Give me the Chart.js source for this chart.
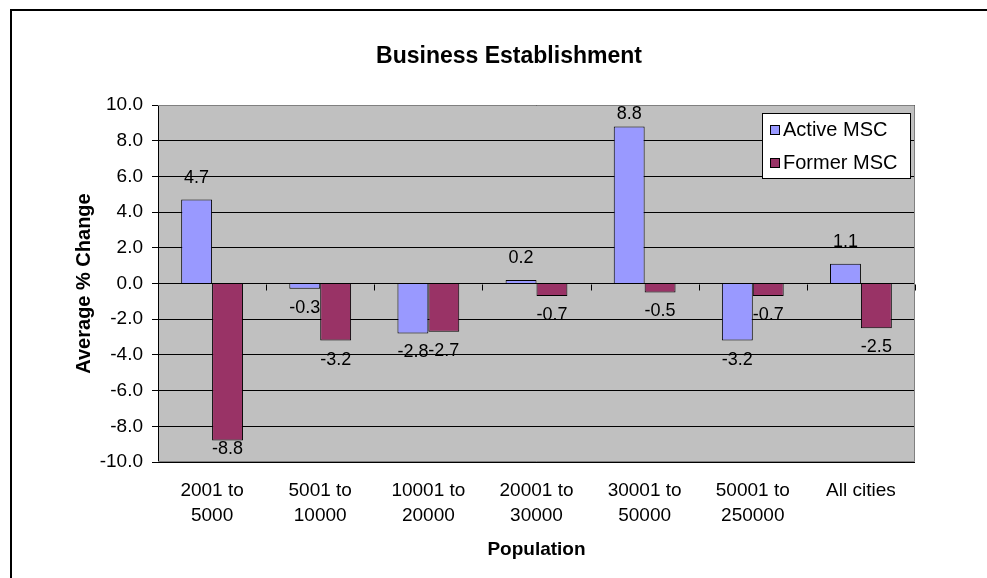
<!DOCTYPE html>
<html lang="en">
  <head>
    <meta charset="UTF-8" />
    <script src="https://cdn.jsdelivr.net/npm/chart.js@4.4.1/dist/chart.umd.min.js"></script>
    <title>Business Establishment</title>
    <style>
      body { margin: 0; background: #fff; }
      canvas { display: block; }
    </style>
  </head>
  <body>
    <canvas id="myChart" width="987" height="578"></canvas>

    <script>
      const title = "Business Establishment";
      const categories = [
        ["2001 to", "5000"],
        ["5001 to", "10000"],
        ["10001 to", "20000"],
        ["20001 to", "30000"],
        ["30001 to", "50000"],
        ["50001 to", "250000"],
        "All cities",
      ];
      const activeMSC = [4.7, -0.3, -2.8, 0.2, 8.8, -3.2, 1.1];
      const formerMSC = [-8.8, -3.2, -2.7, -0.7, -0.5, -0.7, -2.5];
      const yTicks = [-10, -8, -6, -4, -2, 0, 2, 4, 6, 8, 10];

      const FONT = "'Liberation Sans', Arial, sans-serif";

      // background, frame, title, value labels and legend
      const excelLook = {
        id: "excelLook",
        beforeDraw(chart) {
          const { ctx, chartArea: a } = chart;
          ctx.save();
          ctx.fillStyle = "#fff";
          ctx.fillRect(0, 0, chart.width, chart.height);
          ctx.fillStyle = "#c0c0c0";
          ctx.fillRect(a.left, a.top, a.right - a.left, a.bottom - a.top);
          // outer chart border (cut off on right and bottom)
          ctx.strokeStyle = "#000";
          ctx.lineWidth = 2;
          ctx.beginPath();
          ctx.moveTo(11, chart.height + 2);
          ctx.lineTo(11, 10);
          ctx.lineTo(chart.width + 2, 10);
          ctx.stroke();
          // chart title
          ctx.fillStyle = "#000";
          ctx.font = "bold 23px " + FONT;
          ctx.textAlign = "center";
          ctx.textBaseline = "middle";
          ctx.fillText(title, 509, 57);
          ctx.restore();
        },
        beforeDatasetsDraw(chart) {
          const { ctx, chartArea: a } = chart;
          ctx.save();
          ctx.strokeStyle = "#808080";
          ctx.lineWidth = 1;
          ctx.beginPath();
          ctx.moveTo(a.left, a.top + 0.5);
          ctx.lineTo(a.right - 0.5, a.top + 0.5);
          ctx.lineTo(a.right - 0.5, a.bottom - 0.5);
          ctx.lineTo(a.left, a.bottom - 0.5);
          ctx.stroke();
          ctx.restore();
        },
        afterDatasetsDraw(chart) {
          // tick marks between categories on the zero line
          const { ctx } = chart;
          const x = chart.scales.x;
          const y0 = Math.round(chart.scales.y.getPixelForValue(0)) + 0.5;
          ctx.save();
          ctx.strokeStyle = "#000";
          ctx.lineWidth = 1;
          ctx.beginPath();
          for (let i = 0; i <= categories.length; i++) {
            const px = Math.round(x.getPixelForValue(i - 0.5)) + 0.5;
            ctx.moveTo(px, y0);
            ctx.lineTo(px, y0 + 6);
          }
          ctx.stroke();
          ctx.restore();
        },
        afterDraw(chart) {
          const { ctx, chartArea: a } = chart;
          ctx.save();
          // value labels
          ctx.font = "18px " + FONT;
          ctx.fillStyle = "#000";
          ctx.textAlign = "center";
          ctx.textBaseline = "middle";
          chart.data.datasets.forEach((ds, di) => {
            chart.getDatasetMeta(di).data.forEach((bar, i) => {
              const v = ds.data[i];
              let ly = v >= 0 ? bar.y - 22 : bar.y + 19;
              ly = Math.max(a.top + 9, Math.min(a.bottom - 13, ly));
              ctx.fillText(v.toFixed(1), bar.x, ly);
            });
          });
          // legend box
          const bx = a.right - 153, by = a.top + 8, bw = 149, bh = 66;
          ctx.fillStyle = "#fff";
          ctx.fillRect(bx, by, bw, bh);
          ctx.strokeStyle = "#000";
          ctx.lineWidth = 1;
          ctx.strokeRect(bx + 0.5, by + 0.5, bw - 1, bh - 1);
          ctx.textAlign = "left";
          ctx.font = "20px " + FONT;
          chart.data.datasets.forEach((ds, di) => {
            const cy = by + 17 + di * 33;
            ctx.fillStyle = ds.backgroundColor;
            ctx.fillRect(bx + 8, cy - 5, 10, 10);
            ctx.strokeRect(bx + 8.5, cy - 4.5, 9, 9);
            ctx.fillStyle = "#000";
            ctx.fillText(ds.label, bx + 21, cy);
          });
          ctx.restore();
        },
      };

      const ctx = document.getElementById("myChart").getContext("2d");
      const myChart = new Chart(ctx, {
        type: "bar",
        data: {
          labels: categories,
          datasets: [
            {
              label: "Active MSC",
              data: activeMSC,
              backgroundColor: "#9999ff",
              borderColor: "#000",
              borderWidth: 1,
            },
            {
              label: "Former MSC",
              data: formerMSC,
              backgroundColor: "#993366",
              borderColor: "#000",
              borderWidth: 1,
            },
          ],
        },
        options: {
          responsive: false,
          animation: false,
          devicePixelRatio: 1,
          categoryPercentage: 4 / 7,
          barPercentage: 1,
          layout: { padding: { left: 0, right: 72, top: 105, bottom: 0 } },
          plugins: {
            legend: { display: false },
            tooltip: { enabled: false },
          },
          scales: {
            x: {
              grid: { display: false, drawTicks: false },
              border: { display: false },
              ticks: {
                color: "#000",
                font: { family: FONT, size: 19, lineHeight: 1.28 },
                padding: 17,
                maxRotation: 0,
                autoSkip: false,
              },
              title: {
                display: true,
                text: "Population",
                color: "#000",
                font: { family: FONT, size: 19, weight: "bold" },
                padding: { top: 0, bottom: 17 },
              },
              afterFit(s) { s.height = 116; },
            },
            y: {
              min: -10,
              max: 10,
              afterBuildTicks(s) { s.ticks = yTicks.map((v) => ({ value: v })); },
              grid: { color: "#000", lineWidth: 1, tickLength: 6, drawTicks: true },
              border: { color: "#000" },
              ticks: {
                color: "#000",
                font: { family: FONT, size: 19 },
                padding: 9,
                callback: (v) => v.toFixed(1),
              },
              title: {
                display: true,
                text: "Average % Change",
                color: "#000",
                font: { family: FONT, size: 20, weight: "bold" },
                padding: { top: 72, bottom: 0 },
              },
              afterFit(s) { s.width = 158; },
            },
          },
        },
        plugins: [excelLook],
      });
    </script>
  </body>
</html>
